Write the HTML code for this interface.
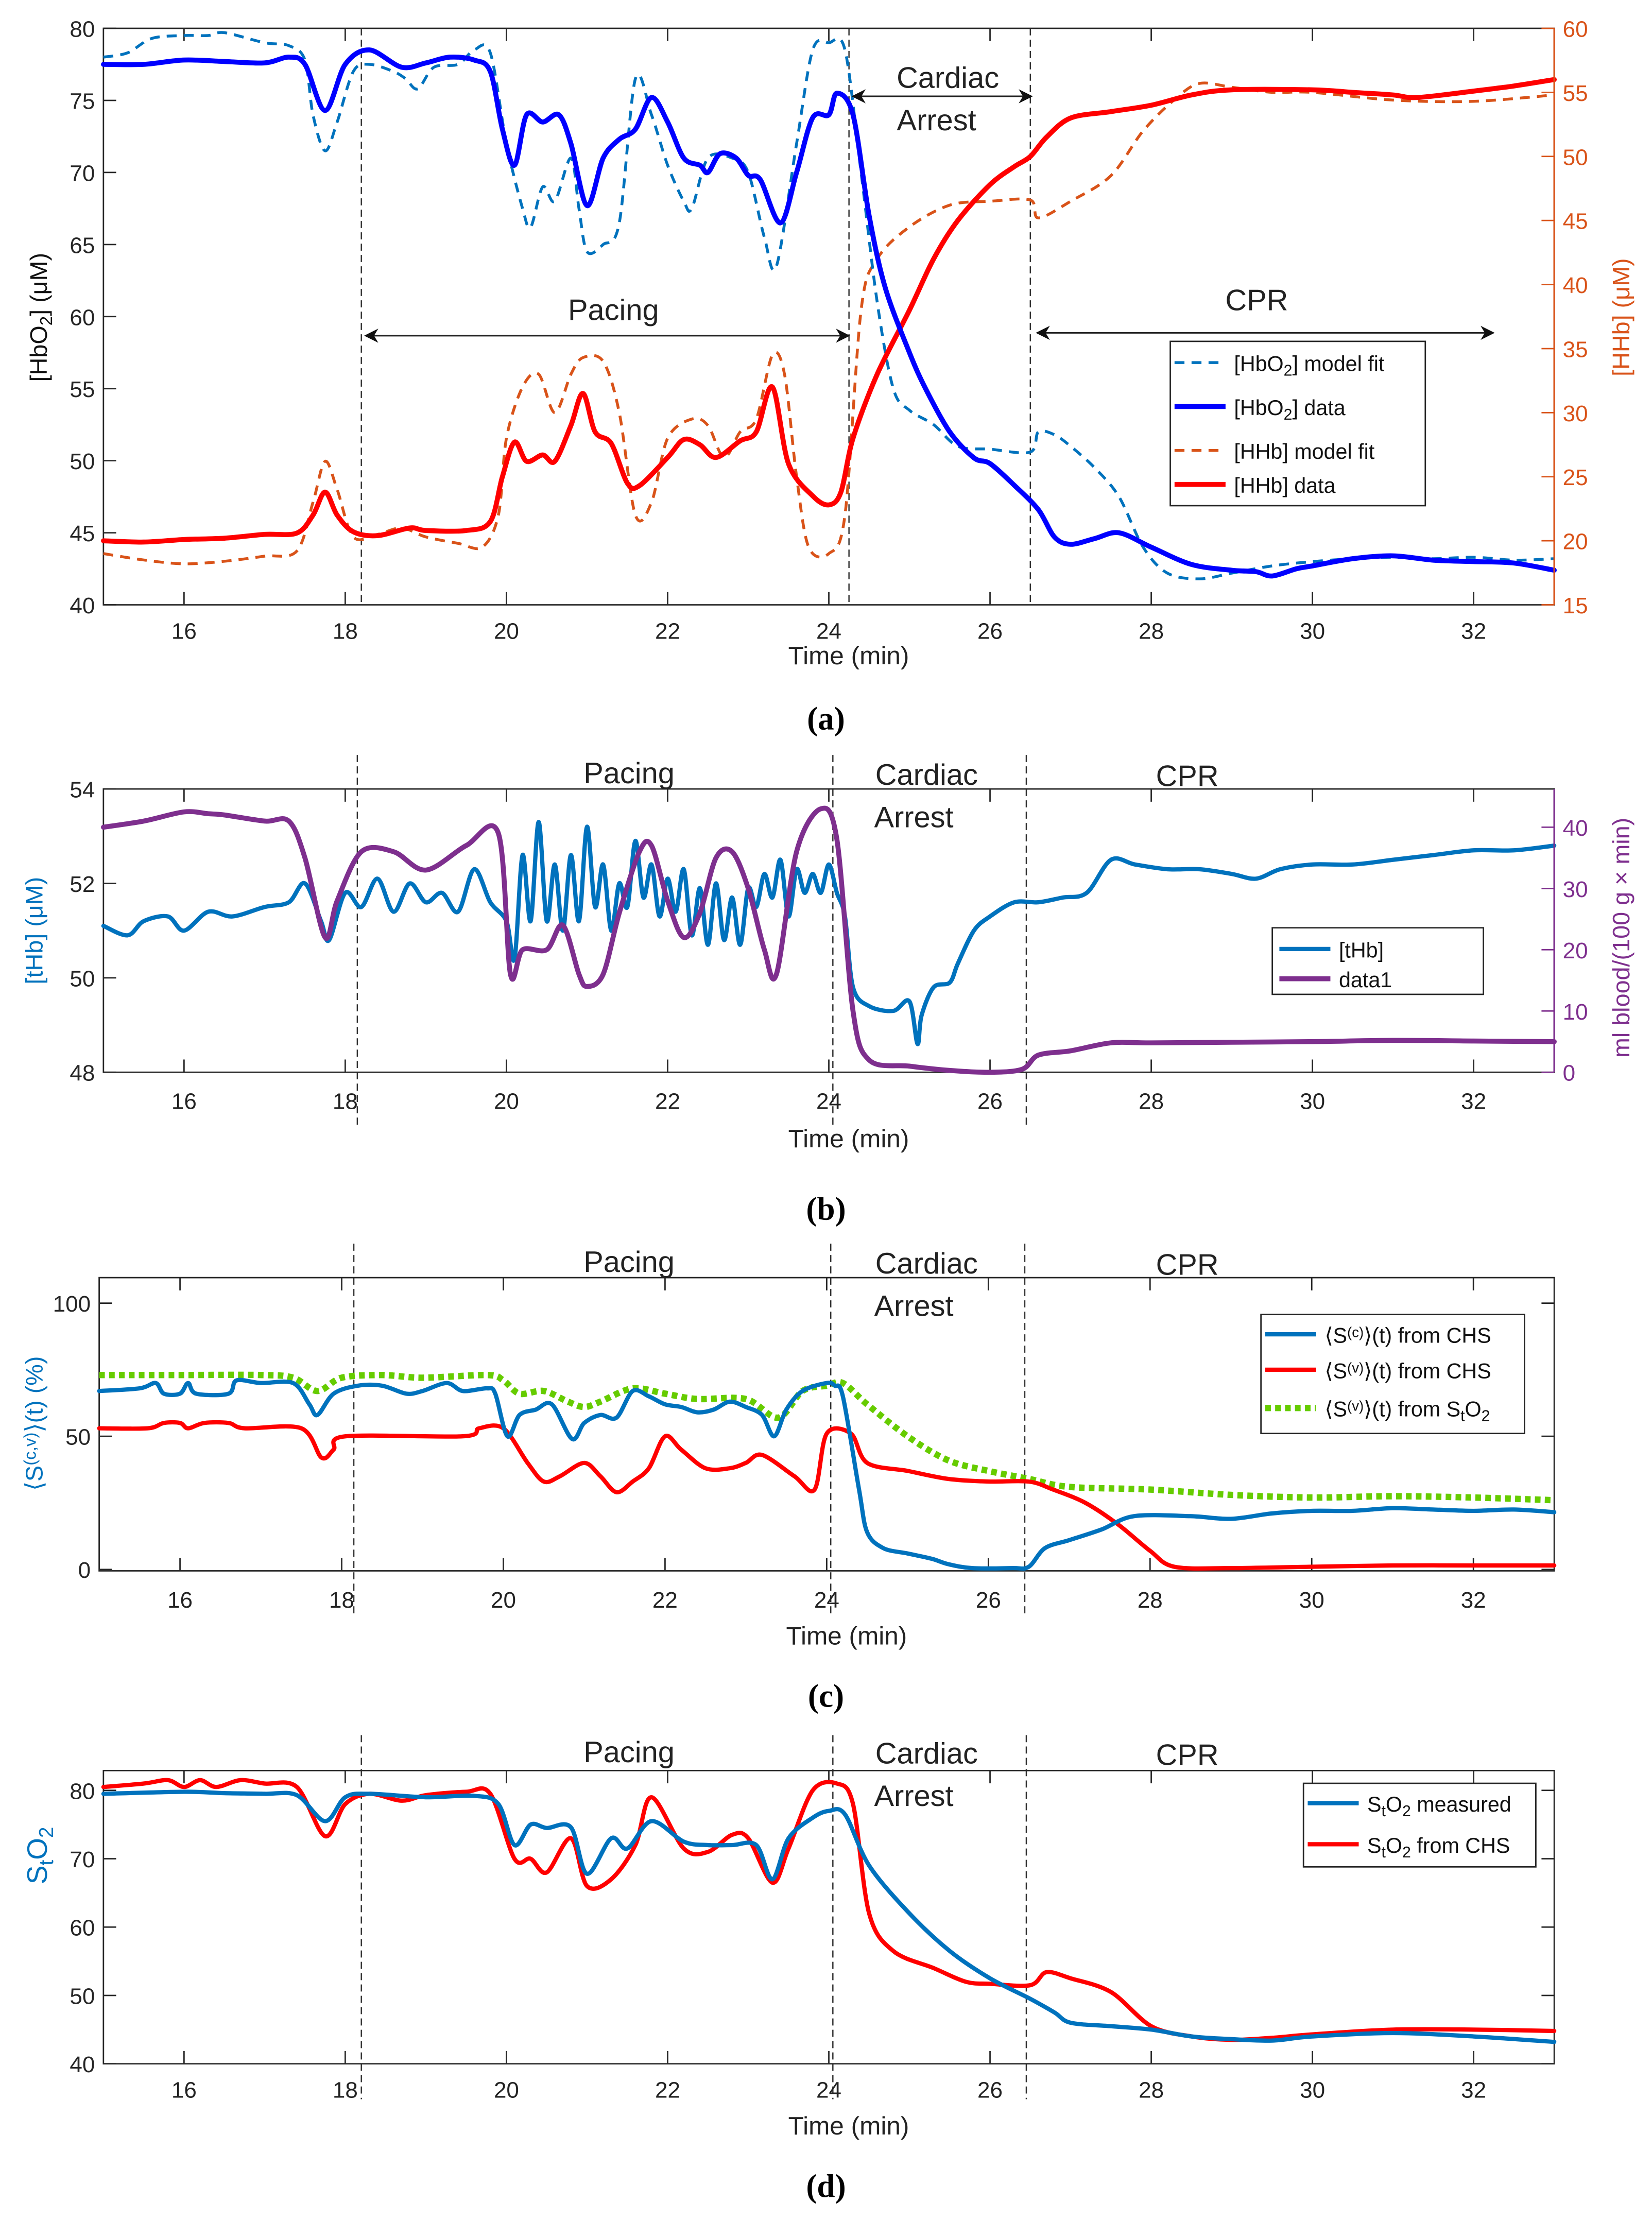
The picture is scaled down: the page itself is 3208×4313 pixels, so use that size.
<!DOCTYPE html>
<html><head><meta charset="utf-8">
<style>
html,body{margin:0;padding:0;background:#fff;}
svg{display:block;}
text{font-family:"Liberation Sans Narrow","Liberation Sans",sans-serif;}
.cap{font-family:"Liberation Serif",serif;font-weight:bold;}
</style></head>
<body>
<svg id="fig" xmlns="http://www.w3.org/2000/svg" width="3208" height="4313" viewBox="0 0 1166 1568" preserveAspectRatio="none"></svg>
<script>
// ---------- Panel (a) data ----------
const aHbO2DataT=[15,15.5,16,16.5,17,17.3,17.5,17.75,18,18.3,18.7,19,19.3,19.6,19.8,19.95,20.1,20.25,20.45,20.65,20.8,21,21.2,21.4,21.6,21.8,22,22.2,22.4,22.5,22.65,22.85,23,23.15,23.4,23.6,23.8,24,24.1,24.3,24.5,24.7,25,25.2,25.5,25.8,26,26.3,26.6,26.8,27,27.3,27.6,28,28.5,29,29.3,29.5,29.8,30,30.5,31,31.5,32,32.5,33];
const aHbO2DataV=[77.5,77.5,77.8,77.7,77.6,78,77.5,74.3,77.5,78.5,77.3,77.6,78,77.8,77,73,70.5,74,73.5,74,72,67.7,71,72.3,73,75.2,73.5,71,70.5,70,71.3,71,69.8,69.5,66.5,70,73.8,74,75.5,74,67,62,57.5,55,52,50.2,49.8,48.3,46.6,44.7,44.2,44.6,45,44,42.8,42.4,42.3,42,42.5,42.7,43.2,43.4,43.1,43,42.9,42.4];
const aHbO2FitT=[15,15.3,15.6,16,16.3,16.5,17,17.3,17.5,17.6,17.75,17.9,18.1,18.3,18.6,18.75,18.9,19.1,19.4,19.6,19.8,20,20.2,20.3,20.45,20.6,20.8,20.9,21,21.2,21.4,21.6,21.8,22,22.2,22.3,22.5,22.8,23,23.2,23.35,23.6,23.8,24,24.2,24.4,24.6,24.8,25,25.3,25.6,26,26.5,26.6,26.8,27,27.3,27.6,27.9,28.2,28.6,29,29.5,30,30.5,31,31.5,32,32.5,33];
const aHbO2FitV=[78,78.3,79.3,79.5,79.5,79.7,79,78.8,77.8,74,71.5,73.5,77,77.5,77,76.5,75.8,77.3,77.5,78.5,78.3,72,67.5,66.2,69,68,71,67.5,64.5,65,66.5,76.5,74,70.5,68,67.5,71,71,70,65.5,63.5,72,78.5,79,78.5,70,61,55,53.5,52.5,51,50.8,50.6,52,51.8,51,49.5,47.5,44,42.2,41.8,42.2,42.7,43,43.2,43.3,43.2,43.3,43.1,43.2];
const aHHbDataT=[15,15.5,16,16.5,17,17.4,17.6,17.75,17.9,18.1,18.4,18.8,19,19.5,19.8,19.95,20.1,20.25,20.45,20.6,20.8,20.95,21.1,21.3,21.5,21.65,22,22.2,22.4,22.6,22.9,23.1,23.3,23.5,23.8,24,24.15,24.3,24.6,25,25.3,25.6,26,26.3,26.5,26.7,27,27.5,28,28.5,29,30,30.5,31,31.3,32,32.5,33];
const aHHbDataV=[20,19.9,20.1,20.2,20.5,20.6,22,23.8,22,20.7,20.4,21,20.8,20.8,21.5,25,27.7,26.2,26.7,26.2,29,31.5,28.5,27.6,24.5,24.3,26.5,27.9,27.5,26.5,27.8,28.5,32,26,23.5,22.8,23.8,28,33,38,42,45,47.8,49.2,50,51.5,53,53.5,54,54.8,55.2,55.2,55,54.8,54.6,55.1,55.5,56];
const aHHbFitT=[15,15.5,16,16.5,17,17.4,17.6,17.75,17.9,18.1,18.4,18.7,19,19.4,19.7,19.9,20,20.2,20.4,20.6,20.8,20.95,21.2,21.4,21.6,21.8,22,22.3,22.5,22.7,22.9,23.1,23.3,23.45,23.6,23.75,24,24.2,24.4,24.6,25,25.5,26,26.5,26.6,27,27.5,27.9,28.3,28.6,29,29.5,30,31,32,33];
const aHHbFitV=[19,18.5,18.2,18.4,18.8,19.2,23,26.2,24,20.3,20.5,21,20.3,19.8,19.5,22,28,32,33,30,33,34.3,34,30,22,23,28,29.5,29,26.5,28.5,29.5,34.5,33,25,19.5,19,22,38,42,44.5,46.2,46.5,46.6,45.2,46.5,48.5,52,54.5,55.7,55.4,55,55,54.4,54.3,54.8];
const aLeftTicks=[40,45,50,55,60,65,70,75,80];
const aRightTicks=[15,20,25,30,35,40,45,50,55,60];
const xTicks=[16,18,20,22,24,26,28,30,32];
// ---------- Panel (b) data ----------
const bTHbT=[15,15.3,15.5,15.8,16,16.3,16.6,17,17.3,17.5,17.7,17.8,18,18.2,18.4,18.6,18.8,19,19.2,19.4,19.6,19.8,20,20.1,20.2,20.3,20.4,20.5,20.6,20.7,20.8,20.9,21,21.1,21.2,21.3,21.4,21.5,21.6,21.7,21.8,21.9,22,22.1,22.2,22.3,22.4,22.5,22.6,22.7,22.8,22.9,23,23.1,23.2,23.3,23.4,23.5,23.6,23.7,23.8,23.9,24,24.1,24.2,24.3,24.5,24.8,25,25.1,25.15,25.3,25.5,25.6,25.8,26,26.3,26.6,26.9,27.2,27.5,27.8,28.2,28.6,29,29.3,29.6,30,30.5,31,31.5,32,32.5,33];
const bTHbV=[51.1,50.9,51.2,51.3,51,51.4,51.3,51.5,51.6,52,51.2,50.8,51.8,51.5,52.1,51.4,52,51.6,51.8,51.4,52.3,51.6,51.2,50.4,52.6,51.2,53.3,51.2,52.4,51,52.6,51.2,53.2,51.5,52.4,51,52,51.5,52.9,51.7,52.4,51.3,52.1,51.4,52.3,50.9,51.9,50.7,52,50.8,51.7,50.7,51.9,51.5,52.2,51.7,52.5,51.3,52.3,51.8,52.2,51.8,52.4,51.8,51.3,49.8,49.4,49.3,49.5,48.6,49.2,49.8,49.9,50.3,51,51.3,51.6,51.6,51.7,51.8,52.5,52.4,52.3,52.3,52.2,52.1,52.3,52.4,52.4,52.5,52.6,52.7,52.7,52.8];
const bFlowT=[15,15.5,16,16.3,16.5,17,17.3,17.5,17.75,17.9,18.2,18.6,19,19.5,19.9,20.05,20.2,20.5,20.7,20.9,21,21.2,21.4,21.65,21.8,22,22.2,22.4,22.6,22.8,23,23.2,23.35,23.6,23.9,24.1,24.3,24.5,25,25.5,26,26.4,26.6,27,27.5,28,29,30,31,32,33];
const bFlowV=[40,41,42.5,42.2,42,41,41,35,22,28,36,36,33,37,39,16,20,20,24,16,14,16,26,36,37,28,22,26,35,36,30,20,16,36,43,38,10,2,1,0.3,0,0.5,2.8,3.5,4.8,4.8,4.9,5,5.2,5.1,5];
const bLeftTicks=[48,50,52,54];
const bRightTicks=[0,10,20,30,40];
// ---------- Panel (c) data ----------
const cSCT=[15,15.5,15.7,15.8,16,16.1,16.2,16.6,16.7,17,17.4,17.6,17.7,17.9,18.2,18.5,18.8,19,19.3,19.5,19.8,19.9,20.05,20.2,20.4,20.6,20.85,21,21.2,21.4,21.6,21.8,22,22.2,22.4,22.6,22.8,23,23.2,23.35,23.5,23.7,24,24.1,24.2,24.4,24.5,24.7,25,25.3,25.5,25.8,26.3,26.5,26.7,27,27.4,27.8,28.5,29,29.5,30,30.5,31,31.5,32,32.5,33];
const cSCV=[67,68,70,66,66,70,66,66,71,70,70,62,58,66,69,69,66,67,70,67,68,66,50,58,60,62,49,55,58,57,67,65,62,61,59,60,63,61,58,50,60,67,70,69,65,30,14,8,6,4,2,0.5,0.5,1,8,11,15,20,20,19,21,22,22,23,22.5,22,22.5,21.5];
const cSVT=[15,15.6,15.8,16,16.1,16.3,16.6,16.8,17.5,17.75,17.9,18.05,19.5,19.7,20,20.3,20.5,20.7,21,21.2,21.4,21.6,21.8,22,22.2,22.5,22.8,23,23.2,23.6,23.85,24,24.3,24.5,25,25.5,26,26.5,26.8,27.2,27.6,28,28.3,29,30,31,32,33];
const cSVV=[53,53,55,55,53,55,55,53,53,42,45,50,50,53,53,40,33,35,40,35,29,33,38,50,45,38,38,40,43,35,30,51,51,40,37,34,33,33,30,25,17,7,1,0.5,1,1.5,1.5,1.5];
const cSV2T=[15,16,17,17.4,17.7,18,18.5,19,19.8,20,20.2,20.5,20.8,21,21.2,21.6,22,22.4,23,23.4,23.7,24,24.2,24.5,25,25.5,26,26.5,27,28,29,30,31,32,33];
const cSV2V=[73,73,73,72,67,72,73,72,73,71,66,67,63,61,63,68,66,64,64,57,67,69,70,62,50,41,37,34,31,30,28,27,27.5,27,26];
const cTicks=[0,50,100];
// ---------- Panel (d) data ----------
const dMeasT=[15,16,16.5,17,17.4,17.75,18,18.3,19,19.6,19.9,20.1,20.3,20.5,20.8,21,21.3,21.5,21.8,22.2,22.5,22.8,23.1,23.3,23.5,23.8,24,24.2,24.5,25,25.5,26,26.5,26.8,27,27.5,28,28.5,29,29.5,30,31,32,33];
const dMeasV=[79.5,79.8,79.6,79.5,79.3,75.5,79,79.5,79,79.2,78,72,75,74.5,74.6,67.8,73,71.5,75.5,72.5,72,72,72,67,73,76,77,76.5,69,62,56.5,52.5,49.5,47.5,46,45.5,45,44,43.6,43.4,44,44.5,44,43.2];
const dCHST=[15,15.5,15.8,16,16.2,16.4,16.7,17,17.4,17.75,18,18.3,18.7,19,19.5,19.8,20.1,20.3,20.5,20.8,21,21.3,21.6,21.8,22.2,22.5,22.8,23,23.3,23.5,23.8,24.1,24.3,24.5,24.8,25.3,25.7,26,26.5,26.7,27,27.5,28,28.5,29,29.5,30,31,32,33];
const dCHSV=[80.5,81,81.5,80.5,81.5,80.5,81.5,81,80.5,73.3,78,79.5,78.5,79.3,79.8,79.5,70,70,68,73,66,67,72,79,71.5,71,73.5,73,66.5,71.5,80,81,78,62,56.5,54,52,51.7,51.5,53.4,52.5,50.5,45.5,44,43.5,43.8,44.3,45,45,44.8];
const dTicks=[40,50,60,70,80];

const NS="http://www.w3.org/2000/svg";
const svg=document.getElementById('fig');
function mk(tag,attrs,parent,txt){const e=document.createElementNS(NS,tag);for(const k in attrs)e.setAttribute(k,attrs[k]);if(txt!==undefined)e.textContent=txt;(parent||svg).appendChild(e);return e;}
function lin(d0,d1,p0,p1){return v=>p0+(v-d0)*(p1-p0)/(d1-d0);}
function pathD(T,V,sx,sy){
  const P=T.map((t,i)=>[sx(t),sy(V[i])]);
  let s='M'+P[0][0].toFixed(2)+','+P[0][1].toFixed(2);
  const k=0.16;
  for(let i=0;i<P.length-1;i++){
    const p0=P[Math.max(0,i-1)],p1=P[i],p2=P[i+1],p3=P[Math.min(P.length-1,i+2)];
    const c1x=p1[0]+(p2[0]-p0[0])*k,c1y=p1[1]+(p2[1]-p0[1])*k;
    const c2x=p2[0]-(p3[0]-p1[0])*k,c2y=p2[1]-(p3[1]-p1[1])*k;
    s+='C'+c1x.toFixed(2)+','+c1y.toFixed(2)+' '+c2x.toFixed(2)+','+c2y.toFixed(2)+' '+p2[0].toFixed(2)+','+p2[1].toFixed(2);
  }
  return s;}
function series(g,name,T,V,sx,sy,color,w,dash){const p=mk('path',{d:pathD(T,V,sx,sy),fill:'none',stroke:color,'stroke-width':w,'stroke-linejoin':'round','stroke-linecap':dash?'butt':'round'},g);if(dash)p.setAttribute('stroke-dasharray',dash);


return p;}
function txt(g,name,x,y,s,size,opts){opts=opts||{};const t=mk('text',{x:x,y:y,'font-size':size,fill:opts.fill||'#222','text-anchor':opts.anchor||'middle'},g,s);if(opts.cls)t.setAttribute('class',opts.cls);if(opts.rot)t.setAttribute('transform','rotate('+opts.rot+' '+x+' '+y+')');


return t;}

function panel(id,box,cfg){
  const g=mk('g',{},svg);
  
  
  const sx=lin(15,33,box.x0,box.x1);
  cfg.vlines.forEach((v,i)=>{const l=mk('line',{x1:sx(v),x2:sx(v),y1:cfg.vy0,y2:cfg.vy1,stroke:'#333','stroke-width':0.9,'stroke-dasharray':'5,3'},g);
    
    });
  const r=mk('rect',{x:box.x0,y:box.y0,width:box.x1-box.x0,height:box.y1-box.y0,fill:'none',stroke:'#262626','stroke-width':1},g);
  
  
  xTicks.forEach(v=>{const x=sx(v);mk('line',{x1:x,x2:x,y1:box.y1,y2:box.y1-9,stroke:'#262626','stroke-width':1},g);mk('line',{x1:x,x2:x,y1:box.y0,y2:box.y0+9,stroke:'#262626','stroke-width':1},g);
    txt(g,'x-tick-label',x,box.y1+cfg.tickOff,String(v),16);});
  txt(g,'x-axis-title',(box.x0+box.x1)/2+14,box.y1+cfg.titleOff,'Time (min)',18);
  cfg.draw(g,sx);
  return g;
}
function yAxis(g,box,ticks,sy,side,color){
  ticks.forEach(v=>{const y=sy(v);
    if(side==='left'){mk('line',{x1:box.x0,x2:box.x0+9,y1:y,y2:y,stroke:color,'stroke-width':1},g);
      txt(g,'y-tick-label',box.x0-6,y+6,String(v),16,{anchor:'end',fill:'#262626'});}
    else{mk('line',{x1:box.x1,x2:box.x1-9,y1:y,y2:y,stroke:color,'stroke-width':1},g);
      txt(g,'y2-tick-label',box.x1+6,y+6,String(v),16,{anchor:'start',fill:color});}
  });
}
function arrow(g,name,x1,x2,y){const l=mk('line',{x1:x1+6,x2:x2-6,y1:y,y2:y,stroke:'#222','stroke-width':1.1},g);
  
  
  mk('path',{d:`M${x1},${y}L${x1+10},${y-5}L${x1+7},${y}L${x1+10},${y+5}Z`,fill:'#111'},g);
  mk('path',{d:`M${x2},${y}L${x2-10},${y-5}L${x2-7},${y}L${x2-10},${y+5}Z`,fill:'#111'},g);}
function legendBox(g,name,x,y,w,h){const r=mk('rect',{x:x,y:y,width:w,height:h,fill:'#fff',stroke:'#262626','stroke-width':1},g);
  
  }
function legEntry(g,name,x,y,color,w,dash,parts){
  const l=mk('line',{x1:x,x2:x+36,y1:y,y2:y,stroke:color,'stroke-width':w},g);if(dash)l.setAttribute('stroke-dasharray',dash);
  const t=mk('text',{x:x+42,y:y+6,'font-size':15,fill:'#111'},g);
  parts.forEach(p=>{const s=mk('tspan',{},t,p[0]);if(p[1]==='sub'){s.setAttribute('baseline-shift','-30%');s.setAttribute('font-size','11');}if(p[1]==='sup'){s.setAttribute('baseline-shift','40%');s.setAttribute('font-size','10');}});
  
  
}

// ===== Panel (a) =====
const boxA={x0:73,x1:1097,y0:20,y1:427};
panel('a',boxA,{vlines:[18.2,24.25,26.5],vy0:20,vy1:427,tickOff:24,titleOff:42,draw:(g,sx)=>{
  const sy=lin(40,80,427,20), sy2=lin(15,60,427,20);
  series(g,'hhb-model-fit',aHHbFitT,aHHbFitV,sx,sy2,'#D95319',2,'7,5');
  series(g,'hbo2-model-fit',aHbO2FitT,aHbO2FitV,sx,sy,'#0072BD',2,'7,5');
  series(g,'hhb-data-line',aHHbDataT,aHHbDataV,sx,sy2,'#FF0000',3.5);
  series(g,'hbo2-data-line',aHbO2DataT,aHbO2DataV,sx,sy,'#0000FF',3.5);
  mk('line',{x1:boxA.x1,x2:boxA.x1,y1:boxA.y0,y2:boxA.y1,stroke:'#D95319','stroke-width':1.2},g);
  yAxis(g,boxA,aLeftTicks,sy,'left','#262626');
  yAxis(g,boxA,aRightTicks,sy2,'right','#D95319');
  const yl=mk('text',{x:33,y:224,'font-size':17,fill:'#111','text-anchor':'middle',transform:'rotate(-90 33 224)'},g);
  mk('tspan',{},yl,'[HbO');mk('tspan',{'baseline-shift':'-30%','font-size':12},yl,'2');mk('tspan',{},yl,'] (μM)');
  
  
  txt(g,'y-axis-title-right',1150,224,'[HHb] (μM)',17,{fill:'#D95319',rot:-90});
  txt(g,'cardiac-label',669,62,'Cardiac',21);
  txt(g,'arrest-label',661,92,'Arrest',21);
  arrow(g,'cardiac-arrest-arrow',601,729,68);
  txt(g,'pacing-label',433,226,'Pacing',21);
  arrow(g,'pacing-arrow',257,600,237);
  txt(g,'cpr-label',887,219,'CPR',21);
  arrow(g,'cpr-arrow',731,1055,235);
  legendBox(g,'legend',826,241,180,116);
  legEntry(g,'legend-hbo2-model-fit',829,256,'#0072BD',2,'7,5',[['[HbO'],['2','sub'],['] model fit']]);
  legEntry(g,'legend-hbo2-data',829,287,'#0000FF',3.5,null,[['[HbO'],['2','sub'],['] data']]);
  legEntry(g,'legend-hhb-model-fit',829,318,'#D95319',2,'7,5',[['[HHb] model fit']]);
  legEntry(g,'legend-hhb-data',829,342,'#FF0000',3.5,null,[['[HHb] data']]);
}});
txt(svg,'caption-a',583,515,'(a)',23,{cls:'cap',fill:'#000'});

// ===== Panel (b) =====
const boxB={x0:73,x1:1097,y0:557,y1:757};
panel('b',boxB,{vlines:[18.15,24.05,26.45],vy0:533,vy1:794,tickOff:26,titleOff:53,draw:(g,sx)=>{
  const sy=lin(48,54,757,557), sy2=lin(0,40,757,584);
  series(g,'thb-line',bTHbT,bTHbV,sx,sy,'#0072BD',3);
  series(g,'blood-flow-line',bFlowT,bFlowV,sx,sy2,'#7E2F8E',3.5);
  mk('line',{x1:boxB.x1,x2:boxB.x1,y1:boxB.y0,y2:boxB.y1,stroke:'#7E2F8E','stroke-width':1.2},g);
  yAxis(g,boxB,bLeftTicks,sy,'left','#262626');
  yAxis(g,boxB,bRightTicks,sy2,'right','#7E2F8E');
  txt(g,'y-axis-title-left',30,657,'[tHb] (μM)',17,{fill:'#0072BD',rot:-90});
  txt(g,'y-axis-title-right',1150,662,'ml blood/(100 g × min)',17,{fill:'#7E2F8E',rot:-90});
  txt(g,'pacing-label',444,553,'Pacing',21);
  txt(g,'cardiac-label',654,554,'Cardiac',21);
  txt(g,'arrest-label',645,584,'Arrest',21);
  txt(g,'cpr-label',838,555,'CPR',21);
  legendBox(g,'legend',898,655,149,47);
  legEntry(g,'legend-thb',903,670,'#0072BD',3,null,[['[tHb]']]);
  legEntry(g,'legend-data1',903,691,'#7E2F8E',3.5,null,[['data1']]);
}});
txt(svg,'caption-b',583,861,'(b)',23,{cls:'cap',fill:'#000'});

// ===== Panel (c) =====
const boxC={x0:70,x1:1097,y0:902,y1:1109};
panel('c',boxC,{vlines:[18.15,24.05,26.45],vy0:878,vy1:1140,tickOff:26,titleOff:52,draw:(g,sx)=>{
  const sy=lin(0,100,1108,920);
  series(g,'sv-sto2-line',cSV2T,cSV2V,sx,sy,'#66CC00',4.5,'4,3');
  series(g,'sv-chs-line',cSVT,cSVV,sx,sy,'#FF0000',3);
  series(g,'sc-chs-line',cSCT,cSCV,sx,sy,'#0072BD',3);
  yAxis(g,boxC,cTicks,sy,'left','#262626');
  cTicks.forEach(v=>mk('line',{x1:boxC.x1,x2:boxC.x1-9,y1:sy(v),y2:sy(v),stroke:'#262626','stroke-width':1},g));
  const yl=mk('text',{x:30,y:1005,'font-size':17,fill:'#0072BD','text-anchor':'middle',transform:'rotate(-90 30 1005)'},g);
  mk('tspan',{},yl,'⟨S');mk('tspan',{'baseline-shift':'40%','font-size':12},yl,'(c,v)');mk('tspan',{},yl,'⟩(t) (%)');
  
  
  txt(g,'pacing-label',444,898,'Pacing',21);
  txt(g,'cardiac-label',654,899,'Cardiac',21);
  txt(g,'arrest-label',645,929,'Arrest',21);
  txt(g,'cpr-label',838,900,'CPR',21);
  legendBox(g,'legend',890,928,186,84);
  legEntry(g,'legend-sc-chs',893,942,'#0072BD',3,null,[['⟨S'],['(c)','sup'],['⟩(t) from CHS']]);
  legEntry(g,'legend-sv-chs',893,967,'#FF0000',3,null,[['⟨S'],['(v)','sup'],['⟩(t) from CHS']]);
  legEntry(g,'legend-sv-sto2',893,994,'#66CC00',4.5,'4,3',[['⟨S'],['(v)','sup'],['⟩(t) from S'],['t','sub'],['O'],['2','sub']]);
}});
txt(svg,'caption-c',583,1205,'(c)',23,{cls:'cap',fill:'#000'});

// ===== Panel (d) =====
const boxD={x0:73,x1:1097,y0:1250,y1:1457};
panel('d',boxD,{vlines:[18.2,24.05,26.45],vy0:1225,vy1:1482,tickOff:24,titleOff:50,draw:(g,sx)=>{
  const sy=lin(40,80,1457,1264);
  series(g,'sto2-chs-line',dCHST,dCHSV,sx,sy,'#FF0000',3);
  series(g,'sto2-measured-line',dMeasT,dMeasV,sx,sy,'#0072BD',3);
  yAxis(g,boxD,dTicks,sy,'left','#262626');
  dTicks.forEach(v=>mk('line',{x1:boxD.x1,x2:boxD.x1-9,y1:sy(v),y2:sy(v),stroke:'#262626','stroke-width':1},g));
  const yl=mk('text',{x:33,y:1310,'font-size':20,fill:'#0072BD','text-anchor':'middle',transform:'rotate(-90 33 1310)'},g);
  mk('tspan',{},yl,'S');mk('tspan',{'baseline-shift':'-30%','font-size':14},yl,'t');mk('tspan',{},yl,'O');mk('tspan',{'baseline-shift':'-30%','font-size':14},yl,'2');
  
  
  txt(g,'pacing-label',444,1244,'Pacing',21);
  txt(g,'cardiac-label',654,1245,'Cardiac',21);
  txt(g,'arrest-label',645,1275,'Arrest',21);
  txt(g,'cpr-label',838,1246,'CPR',21);
  legendBox(g,'legend',920,1259,164,59);
  legEntry(g,'legend-sto2-measured',923,1273,'#0072BD',3,null,[['S'],['t','sub'],['O'],['2','sub'],[' measured']]);
  legEntry(g,'legend-sto2-chs',923,1302,'#FF0000',3,null,[['S'],['t','sub'],['O'],['2','sub'],[' from CHS']]);
}});
txt(svg,'caption-d',583,1551,'(d)',23,{cls:'cap',fill:'#000'});
</script>
</body></html>
